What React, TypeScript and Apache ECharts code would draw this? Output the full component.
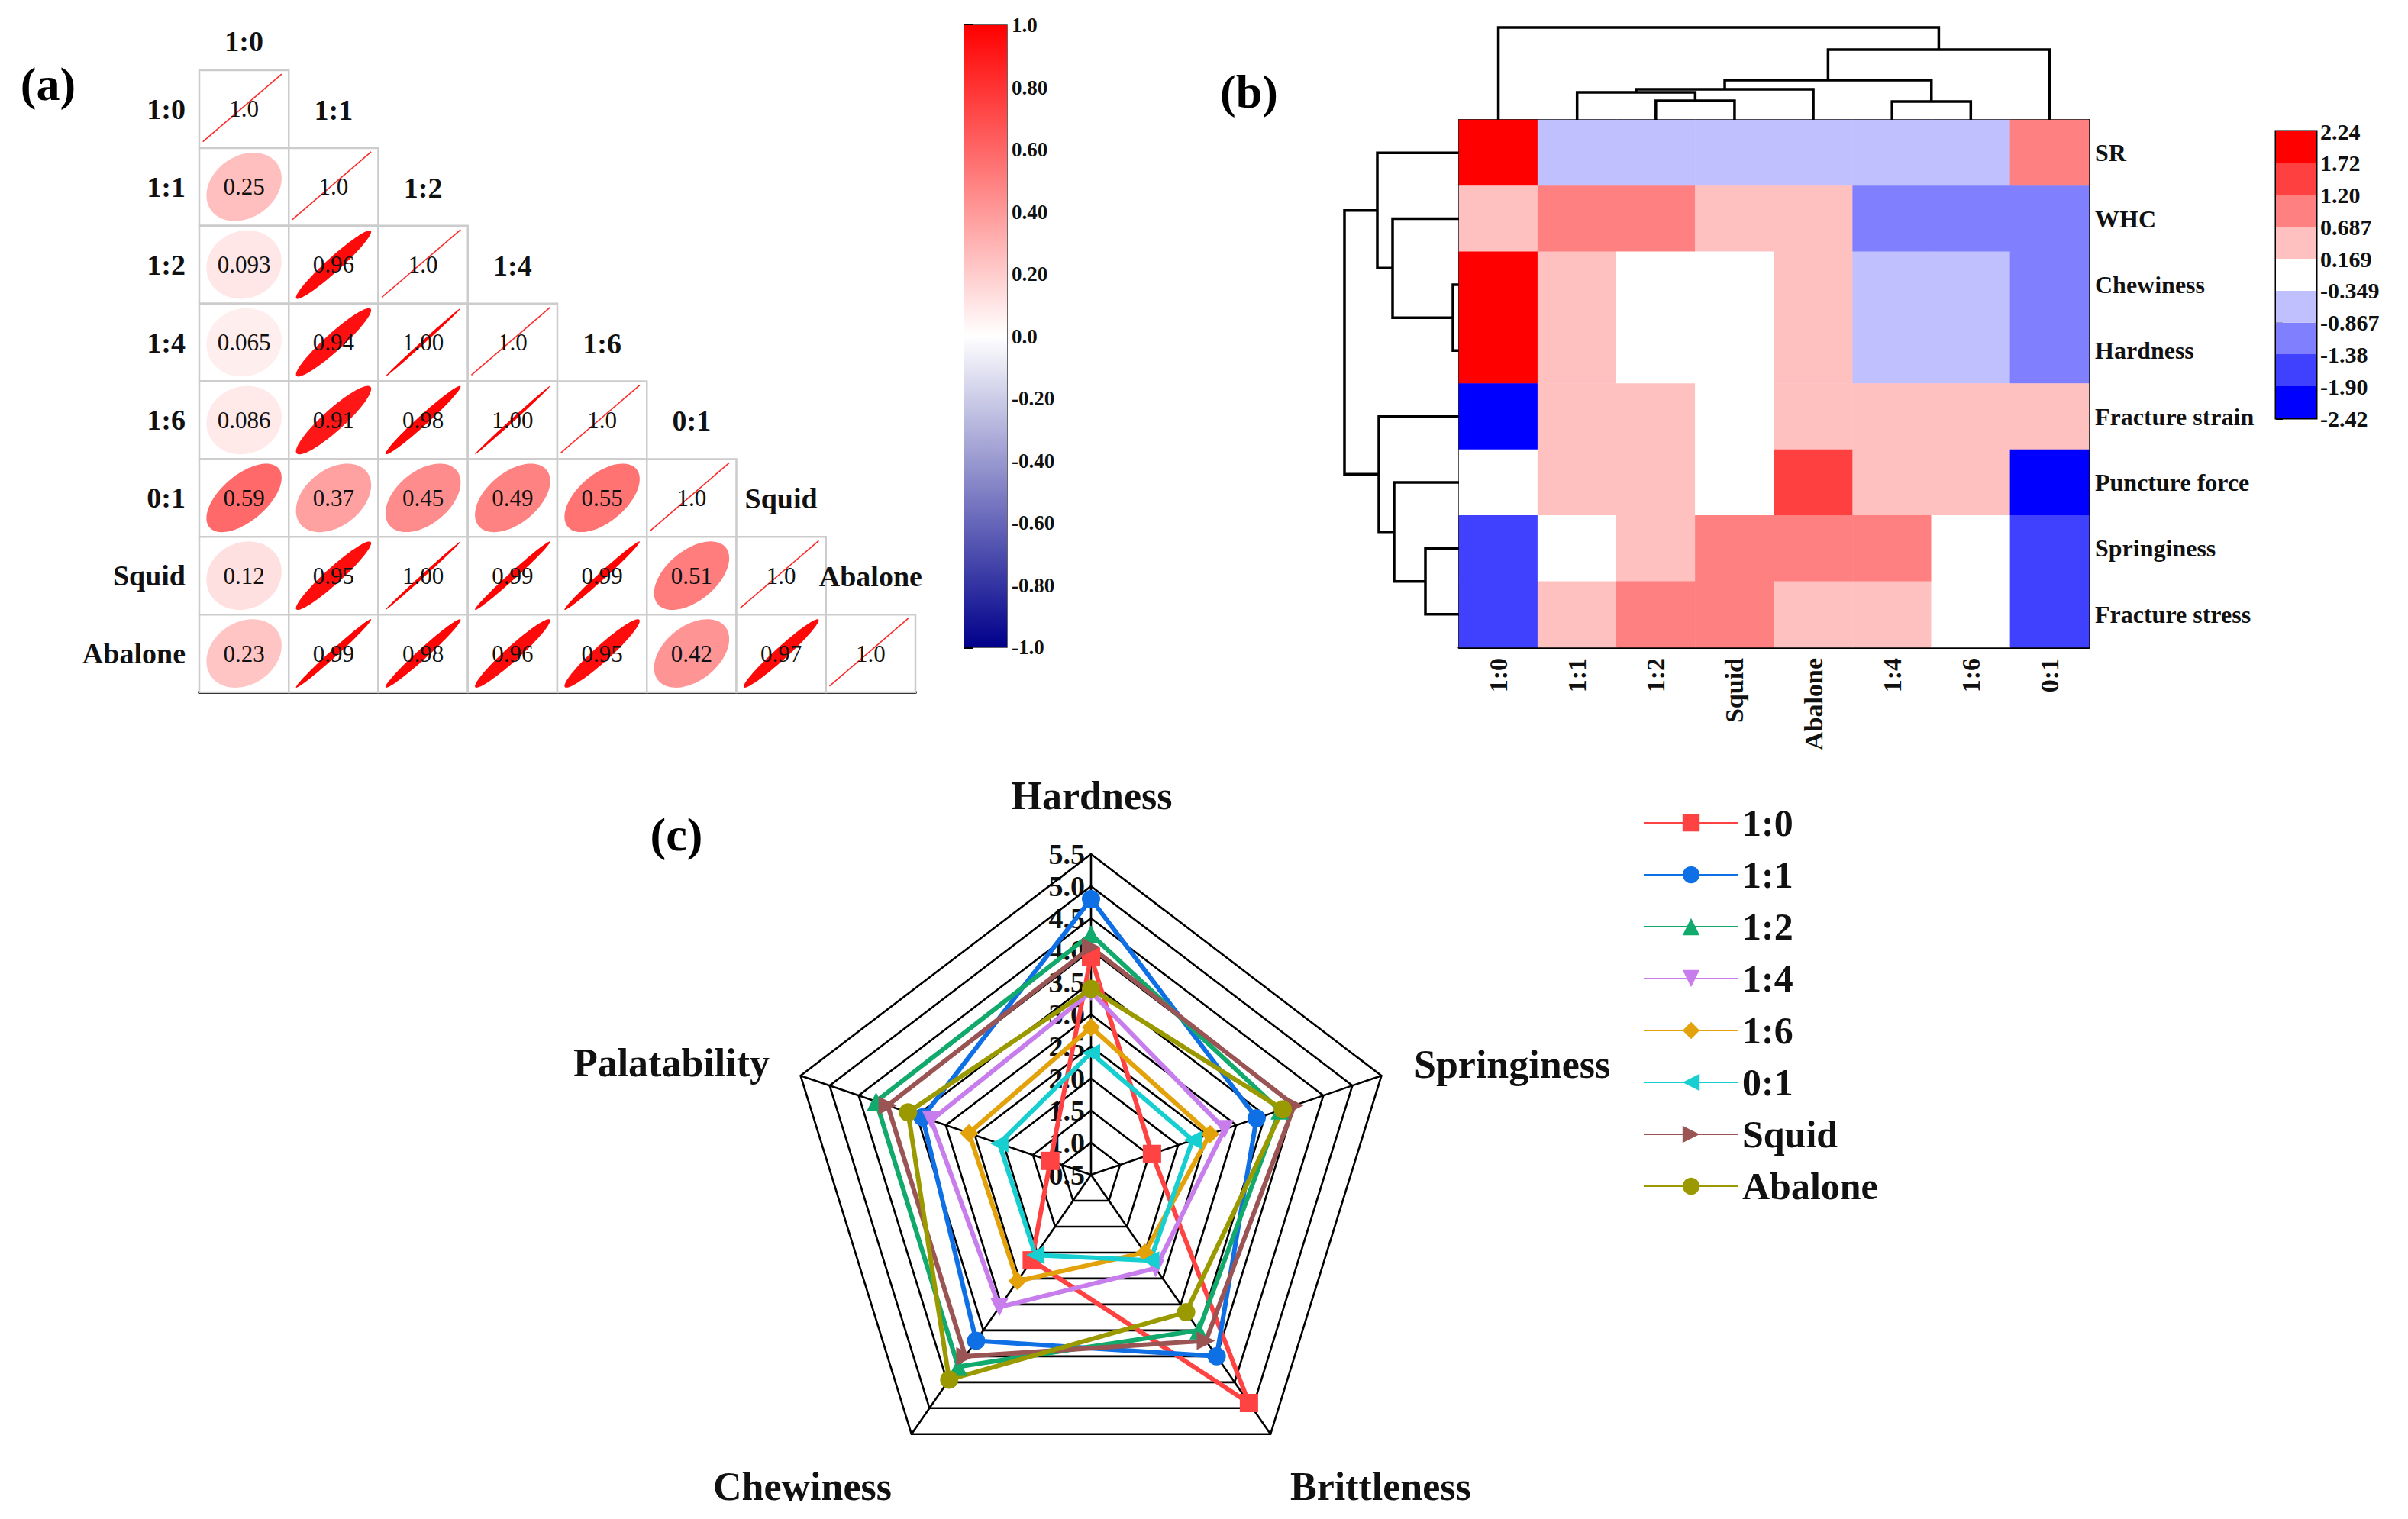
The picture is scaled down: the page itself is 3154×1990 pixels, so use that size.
import { useEffect, useRef } from 'react';
import * as echarts from 'echarts';

const FONT = '"Liberation Serif", "Times New Roman", serif';

// ---------- Panel (a): correlation matrix ----------
const corrLabels = ['1:0', '1:1', '1:2', '1:4', '1:6', '0:1', 'Squid', 'Abalone'];
const corrRow10 = [1];
const corrRow11 = [0.25, 1];
const corrRow12 = [0.093, 0.96, 1];
const corrRow14 = [0.065, 0.94, 0.998, 1];
const corrRow16 = [0.086, 0.91, 0.98, 0.998, 1];
const corrRow01 = [0.59, 0.37, 0.45, 0.49, 0.55, 1];
const corrRowSquid = [0.12, 0.95, 0.998, 0.99, 0.99, 0.51, 1];
const corrRowAbalone = [0.23, 0.99, 0.98, 0.96, 0.95, 0.42, 0.97, 1];
const corrRows = [corrRow10, corrRow11, corrRow12, corrRow14, corrRow16, corrRow01, corrRowSquid, corrRowAbalone];

// ---------- Panel (b): clustered heatmap ----------
const hmCols = ['1:0', '1:1', '1:2', 'Squid', 'Abalone', '1:4', '1:6', '0:1'];
const hmRowNames = ['SR', 'WHC', 'Chewiness', 'Hardness', 'Fracture strain', 'Puncture force', 'Springiness', 'Fracture stress'];
const hmSR = [2.12, -0.52, -0.49, -0.55, -0.47, -0.58, -0.45, 0.93];
const hmWHC = [0.45, 1.02, 0.91, 0.38, 0.52, -1.15, -1.08, -1.2];
const hmChewiness = [2.05, 0.41, -0.12, 0.02, 0.55, -0.62, -0.71, -1.25];
const hmHardness = [1.95, 0.36, -0.05, -0.15, 0.48, -0.55, -0.66, -1.3];
const hmFractureStrain = [-2.3, 0.6, 0.31, -0.2, 0.35, 0.44, 0.52, 0.28];
const hmPunctureForce = [-0.1, 0.25, 0.4, 0.05, 1.6, 0.3, 0.37, -2.36];
const hmSpringiness = [-1.72, -0.2, 0.47, 0.98, 1.05, 0.9, 0.02, -1.6];
const hmFractureStress = [-1.58, 0.6, 0.88, 1.1, 0.39, 0.22, -0.25, -1.75];
const hmRows = [hmSR, hmWHC, hmChewiness, hmHardness, hmFractureStrain, hmPunctureForce, hmSpringiness, hmFractureStress];
const hmScaleLabels = ['-2.42', '-1.90', '-1.38', '-0.867', '-0.349', '0.169', '0.687', '1.20', '1.72', '2.24'];
const hmBinColors = ['#0000FF', '#4040FF', '#8080FF', '#C0C0FF', '#FFFFFF', '#FFC0C0', '#FF8080', '#FF4040', '#FF0000'];
// merges: [childA, childB, height]; leaves 0..7, merge k gets id 8+k
const colTree = [[2, 3, 25], [1, 8, 36], [9, 4, 40], [5, 6, 24], [10, 11, 52], [12, 7, 92], [0, 13, 121]];
const rowTree = [[2, 3, 8], [1, 8, 87], [0, 9, 107], [6, 7, 44], [5, 11, 85], [4, 12, 105], [10, 13, 150]];

// ---------- Panel (c): radar (clockwise from top) ----------
const radarAxes = ['Hardness', 'Springiness', 'Brittleness', 'Chewiness', 'Palatability'];
const radarMin = 0.5;
const radarMax = 5.5;
const radarStep = 0.5;
const radarNames = ['1:0', '1:1', '1:2', '1:4', '1:6', '0:1', 'Squid', 'Abalone'];
const r10 = [3.9, 1.55, 4.9, 2.15, 1.2];
const r11 = [4.8, 3.35, 4.0, 3.7, 3.4];
const r12 = [4.25, 3.75, 3.5, 4.2, 4.2];
const r14 = [3.35, 2.8, 2.3, 3.05, 3.25];
const r16 = [2.8, 2.55, 2.0, 2.55, 2.6];
const r01 = [2.4, 2.25, 2.15, 2.05, 2.08];
const rSquid = [4.05, 4.0, 3.7, 4.0, 4.0];
const rAbalone = [3.4, 3.8, 3.15, 4.45, 3.65];
const radarValues = [r10, r11, r12, r14, r16, r01, rSquid, rAbalone];
const radarColors = ['#FF4242', '#0F6FE4', '#12A96C', '#C77EEC', '#E3A10A', '#17CFD0', '#9A5454', '#9A9A00'];
const radarSymbols = [
  'rect',
  'circle',
  'triangle',
  'path://M0,0L10,0L5,10Z',
  'diamond',
  'path://M0,5L10,0L10,10Z',
  'path://M0,0L10,5L0,10Z',
  'circle',
];

function corrColor(v: number) {
  const t = Math.min(1, Math.abs(v));
  if (v >= 0) {
    const g = Math.round(255 * (1 - t));
    return `rgb(255,${g},${g})`;
  }
  const c = Math.round(255 * (1 - t));
  const b = Math.round(255 - (255 - 139) * t);
  return `rgb(${c},${c},${b})`;
}

function corrText(v: number, diag: boolean) {
  if (diag) return v.toFixed(1);
  return Math.abs(v) < 0.1 ? v.toFixed(3) : v.toFixed(2);
}

function dendroSegments(tree: number[][], nLeaves: number) {
  const pos: number[] = [];
  const hgt: number[] = [];
  for (let i = 0; i < nLeaves; i++) {
    pos[i] = i;
    hgt[i] = 0;
  }
  return tree.map(([a, b, h], k) => {
    const id = nLeaves + k;
    pos[id] = (pos[a] + pos[b]) / 2;
    hgt[id] = h;
    return [pos[a], hgt[a], pos[b], hgt[b], h];
  });
}

// polar -> cartesian projection for the radar (angle measured clockwise from the top)
function radarPoint(k: number, v: number) {
  const th = (2 * Math.PI * k) / radarAxes.length;
  const r = v - radarMin;
  return [r * Math.sin(th), r * Math.cos(th)];
}

function buildOption(): any {
  const corrData: number[][] = [];
  corrRows.forEach((row, r) => row.forEach((v, c) => corrData.push([c, r, v])));

  const hmData: number[][] = [];
  hmRows.forEach((row, r) => row.forEach((v, c) => hmData.push([c, r, v])));

  const hmBreaks = hmScaleLabels.map(Number);
  const hmBins = hmBinColors.map((_, i) => [i, hmBreaks[i], hmBreaks[i + 1]]);

  const colSegs = dendroSegments(colTree, hmCols.length);
  const rowSegs = dendroSegments(rowTree, hmRowNames.length);

  const ringLevels: number[][] = [];
  for (let v = radarMin + radarStep; v <= radarMax + 1e-9; v += radarStep) ringLevels.push([v]);
  const spokes = radarAxes.map((_, k) => [k]);
  const R = radarMax - radarMin;

  const dendroStyle = { stroke: '#000', lineWidth: 3.5, fill: 'none' };
  const hiddenValue = (extra: any = {}) => ({ type: 'value', show: false, ...extra });

  const series: any[] = [
    // 0: correlation matrix
    {
      type: 'custom',
      xAxisIndex: 0,
      yAxisIndex: 0,
      clip: false,
      data: corrData,
      renderItem: (_p: any, api: any) => {
        const c = api.value(0);
        const r = api.value(1);
        const v = api.value(2);
        const [cx, cy] = api.coord([c, r]);
        const [w, h] = api.size([1, 1]);
        const children: any[] = [
          {
            type: 'rect',
            shape: { x: cx - w / 2, y: cy - h / 2, width: w, height: h },
            style: { fill: '#fff', stroke: '#cccccc', lineWidth: 2.5 },
          },
        ];
        const diag = c === r;
        if (diag) {
          children.push({
            type: 'line',
            shape: { x1: cx - 0.46 * w, y1: cy + 0.42 * h, x2: cx + 0.42 * w, y2: cy - 0.45 * h },
            style: { stroke: '#ff2a2a', lineWidth: 1.6 },
          });
          children.push({
            type: 'text',
            style: {
              text: corrLabels[c],
              x: cx,
              y: cy - h / 2 - (c === 0 ? 0.37 : 0.49) * h,
              align: 'center',
              verticalAlign: 'middle',
              fontSize: 38,
              fontWeight: 'bold',
              fontFamily: FONT,
              fill: '#111',
            },
          });
        } else {
          const d = Math.acos(Math.max(-1, Math.min(1, v)));
          const pts: number[][] = [];
          for (let k = 0; k < 96; k++) {
            const t = (k / 96) * Math.PI * 2;
            pts.push([cx + Math.cos(t + d / 2) * 0.42 * w, cy - Math.cos(t - d / 2) * 0.44 * h]);
          }
          children.push({ type: 'polygon', shape: { points: pts }, style: { fill: corrColor(v) } });
        }
        children.push({
          type: 'text',
          style: {
            text: corrText(v, diag),
            x: cx,
            y: cy,
            align: 'center',
            verticalAlign: 'middle',
            fontSize: 31,
            fontFamily: FONT,
            fill: '#111',
          },
        });
        return { type: 'group', children };
      },
    },
    // 1: colorbar (a)
    {
      type: 'custom',
      xAxisIndex: 1,
      yAxisIndex: 1,
      data: [[0, 0]],
      renderItem: (_p: any, api: any) => {
        const p1 = api.coord([0, 1]);
        const p2 = api.coord([1, -1]);
        return {
          type: 'rect',
          shape: { x: p1[0], y: p1[1], width: p2[0] - p1[0], height: p2[1] - p1[1] },
          style: {
            fill: new echarts.graphic.LinearGradient(0, 0, 0, 1, [
              { offset: 0, color: corrColor(1) },
              { offset: 0.5, color: corrColor(0) },
              { offset: 1, color: corrColor(-1) },
            ]),
          },
        };
      },
    },
    // 2: heatmap
    {
      type: 'heatmap',
      xAxisIndex: 2,
      yAxisIndex: 2,
      data: hmData,
      itemStyle: { borderWidth: 0 },
    },
    // 3: top dendrogram
    {
      type: 'custom',
      xAxisIndex: 3,
      yAxisIndex: 3,
      clip: false,
      data: colSegs,
      renderItem: (_p: any, api: any) => {
        const pa = api.value(0), ha = api.value(1), pb = api.value(2), hb = api.value(3), h = api.value(4);
        return {
          type: 'polyline',
          shape: { points: [api.coord([pa, ha]), api.coord([pa, h]), api.coord([pb, h]), api.coord([pb, hb])] },
          style: dendroStyle,
        };
      },
    },
    // 4: left dendrogram
    {
      type: 'custom',
      xAxisIndex: 4,
      yAxisIndex: 4,
      clip: false,
      data: rowSegs.map((s) => [s[1], s[0], s[3], s[2], s[4]]),
      renderItem: (_p: any, api: any) => {
        const ha = api.value(0), pa = api.value(1), hb = api.value(2), pb = api.value(3), h = api.value(4);
        return {
          type: 'polyline',
          shape: { points: [api.coord([ha, pa]), api.coord([h, pa]), api.coord([h, pb]), api.coord([hb, pb])] },
          style: dendroStyle,
        };
      },
    },
    // 5: colorbar (b)
    {
      type: 'custom',
      xAxisIndex: 5,
      yAxisIndex: 5,
      data: hmBins,
      renderItem: (_p: any, api: any) => {
        const i = api.value(0);
        const lo = api.value(1);
        const hi = api.value(2);
        const p1 = api.coord([0, hi]);
        const p2 = api.coord([1, lo]);
        return {
          type: 'rect',
          shape: { x: p1[0], y: p1[1], width: p2[0] - p1[0], height: p2[1] - p1[1] },
          style: { fill: hmBinColors[i] },
        };
      },
    },
    // 6: radar rings
    {
      type: 'custom',
      xAxisIndex: 7,
      yAxisIndex: 7,
      clip: false,
      silent: true,
      data: ringLevels,
      renderItem: (_p: any, api: any) => {
        const v = api.value(0);
        const pts = radarAxes.map((_, k) => api.coord(radarPoint(k, v)));
        return { type: 'polygon', shape: { points: pts }, style: { fill: 'none', stroke: '#000', lineWidth: 2.6 } };
      },
    },
    // 7: radar spokes
    {
      type: 'custom',
      xAxisIndex: 7,
      yAxisIndex: 7,
      clip: false,
      silent: true,
      data: spokes,
      renderItem: (_p: any, api: any) => {
        const k = api.value(0);
        const c = api.coord([0, 0]);
        const e = api.coord(radarPoint(k, radarMax));
        return { type: 'line', shape: { x1: c[0], y1: c[1], x2: e[0], y2: e[1] }, style: { stroke: '#000', lineWidth: 2.6 } };
      },
    },
  ];

  radarNames.forEach((name, i) => {
    const pts: any[] = radarValues[i].map((v, k) => radarPoint(k, v));
    pts.push({ value: radarPoint(0, radarValues[i][0]), symbol: 'none' });
    series.push({
      type: 'line',
      name,
      xAxisIndex: 7,
      yAxisIndex: 7,
      data: pts,
      symbol: radarSymbols[i],
      symbolSize: 24,
      symbolKeepAspect: true,
      showAllSymbol: true,
      clip: false,
      itemStyle: { color: radarColors[i] },
      lineStyle: { color: radarColors[i], width: 6 },
    });
  });

  const noAxisParts = { axisTick: { show: false }, splitLine: { show: false } };
  const axisNameStyle = { fontSize: 52, fontWeight: 'bold', fontFamily: FONT, fill: '#111', verticalAlign: 'middle' };

  return {
    animation: false,
    textStyle: { fontFamily: FONT },
    grid: [
      { left: 261, top: 92, width: 938, height: 815, outerBoundsMode: 'none' },
      { left: 1263, top: 33, width: 56, height: 815, show: true, borderColor: '#333', borderWidth: 1.5, outerBoundsMode: 'none' },
      { left: 1911, top: 157, width: 825, height: 691, show: true, borderColor: '#222', borderWidth: 2, outerBoundsMode: 'none' },
      { left: 1911, top: 36, width: 825, height: 121, outerBoundsMode: 'none' },
      { left: 1761, top: 157, width: 150, height: 691, outerBoundsMode: 'none' },
      { left: 2981, top: 172, width: 53, height: 376, show: true, borderColor: '#000', borderWidth: 3, outerBoundsMode: 'none' },
      { left: 1429, top: 1119, width: 1, height: 420, outerBoundsMode: 'none' },
      { left: 1029, top: 1119, width: 800, height: 840, outerBoundsMode: 'none' },
    ],
    xAxis: [
      {
        type: 'category',
        gridIndex: 0,
        data: corrLabels,
        axisLine: { show: true, lineStyle: { color: '#000', width: 4 } },
        axisLabel: { show: false },
        ...noAxisParts,
      },
      hiddenValue({ gridIndex: 1, min: 0, max: 1 }),
      {
        type: 'category',
        gridIndex: 2,
        data: hmCols,
        position: 'bottom',
        axisLine: { show: true, lineStyle: { color: '#000', width: 3 } },
        axisLabel: { rotate: 90, interval: 0, fontSize: 34, fontWeight: 'bold', color: '#111', margin: 14, fontFamily: FONT },
        ...noAxisParts,
      },
      hiddenValue({ gridIndex: 3, min: -0.5, max: 7.5 }),
      hiddenValue({ gridIndex: 4, min: 0, max: 150, inverse: true }),
      hiddenValue({ gridIndex: 5, min: 0, max: 1 }),
      hiddenValue({ gridIndex: 6, min: 0, max: 1 }),
      hiddenValue({ gridIndex: 7, min: -R, max: R }),
    ],
    yAxis: [
      {
        type: 'category',
        gridIndex: 0,
        data: corrLabels,
        inverse: true,
        axisLine: { show: true, lineStyle: { color: '#000', width: 2 } },
        axisLabel: { interval: 0, fontSize: 38, fontWeight: 'bold', color: '#111', margin: 18, fontFamily: FONT },
        ...noAxisParts,
      },
      {
        type: 'value',
        gridIndex: 1,
        min: -1,
        max: 1,
        interval: 0.2,
        position: 'right',
        axisLine: { show: false },
        axisTick: { show: true, length: 12, lineStyle: { color: '#000', width: 3 } },
        splitLine: { show: false },
        axisLabel: {
          fontSize: 27,
          fontWeight: 'bold',
          color: '#111',
          margin: 6,
          fontFamily: FONT,
          formatter: (v: number) => (Math.abs(v) < 1e-9 ? '0.0' : Math.abs(Math.abs(v) - 1) < 1e-9 ? v.toFixed(1) : v.toFixed(2)),
        },
      },
      {
        type: 'category',
        gridIndex: 2,
        data: hmRowNames,
        inverse: true,
        position: 'right',
        axisLine: { show: true, lineStyle: { color: '#000', width: 1.5 } },
        axisLabel: { interval: 0, fontSize: 32, fontWeight: 'bold', color: '#111', margin: 8, fontFamily: FONT },
        ...noAxisParts,
      },
      hiddenValue({ gridIndex: 3, min: 0, max: 121 }),
      hiddenValue({ gridIndex: 4, min: -0.5, max: 7.5, inverse: true }),
      {
        type: 'value',
        gridIndex: 5,
        min: hmBreaks[0],
        max: hmBreaks[hmBreaks.length - 1],
        position: 'right',
        axisLine: { show: false },
        splitLine: { show: false },
        axisTick: { show: true, length: 9, customValues: hmBreaks, lineStyle: { color: '#000', width: 3 } },
        axisLabel: {
          customValues: hmBreaks,
          fontSize: 30,
          fontWeight: 'bold',
          color: '#111',
          margin: 5,
          fontFamily: FONT,
          formatter: (v: number) => {
            const i = hmBreaks.findIndex((b) => Math.abs(b - v) < 1e-6);
            return i >= 0 ? hmScaleLabels[i] : '';
          },
        },
      },
      {
        type: 'value',
        gridIndex: 6,
        min: radarMin,
        max: radarMax,
        interval: radarStep,
        axisLine: { show: false },
        axisTick: { show: false },
        splitLine: { show: false },
        axisLabel: { fontSize: 38, fontWeight: 'bold', color: '#111', margin: 8, fontFamily: FONT, formatter: (v: number) => v.toFixed(1) },
      },
      hiddenValue({ gridIndex: 7, min: -R, max: R }),
    ],
    visualMap: {
      type: 'piecewise',
      show: false,
      seriesIndex: 2,
      dimension: 2,
      pieces: hmBinColors.map((color, i) => ({ min: hmBreaks[i], max: hmBreaks[i + 1], color })),
    },
    legend: {
      data: radarNames,
      orient: 'vertical',
      left: 2152,
      top: 1053,
      itemWidth: 124,
      itemHeight: 28,
      itemGap: 18,
      padding: 0,
      selectedMode: false,
      textStyle: { fontSize: 50, fontWeight: 'bold', color: '#111', fontFamily: FONT },
    },
    graphic: [
      { type: 'text', x: 63, y: 110, style: { text: '(a)', fontSize: 62, fontWeight: 'bold', fontFamily: FONT, fill: '#000', align: 'center', verticalAlign: 'middle' } },
      { type: 'text', x: 1636, y: 120, style: { text: '(b)', fontSize: 62, fontWeight: 'bold', fontFamily: FONT, fill: '#000', align: 'center', verticalAlign: 'middle' } },
      { type: 'text', x: 886, y: 1093, style: { text: '(c)', fontSize: 62, fontWeight: 'bold', fontFamily: FONT, fill: '#000', align: 'center', verticalAlign: 'middle' } },
      { type: 'text', x: 1430, y: 1042, style: { ...axisNameStyle, text: radarAxes[0], align: 'center' } },
      { type: 'text', x: 1852, y: 1394, style: { ...axisNameStyle, text: radarAxes[1], align: 'left' } },
      { type: 'text', x: 1690, y: 1947, style: { ...axisNameStyle, text: radarAxes[2], align: 'left' } },
      { type: 'text', x: 1168, y: 1947, style: { ...axisNameStyle, text: radarAxes[3], align: 'right' } },
      { type: 'text', x: 1008, y: 1392, style: { ...axisNameStyle, text: radarAxes[4], align: 'right' } },
    ],
    series,
  };
}

export default function App() {
  const ref = useRef<HTMLDivElement>(null);
  useEffect(() => {
    document.body.style.margin = '0';
    const chart = echarts.init(ref.current!, null, { renderer: 'svg' });
    chart.setOption(buildOption());
    return () => chart.dispose();
  }, []);
  return <div ref={ref} style={{ width: 3154, height: 1990 }} />;
}
